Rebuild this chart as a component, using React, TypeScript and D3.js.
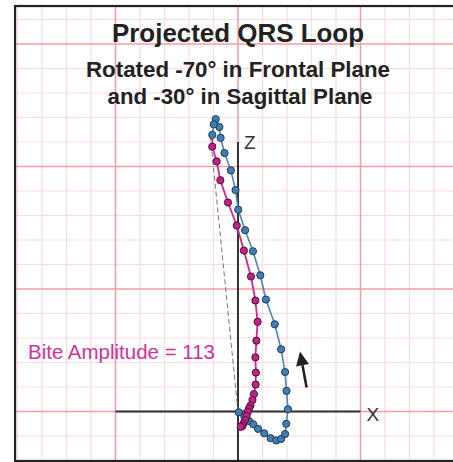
import React, { useEffect } from "react";
import * as d3 from "d3";

// loop samples (X = left/right, Z = up/down), blue = early part, magenta = terminal part
const blueX = [0.3, 2.6, 4.5, 6.2, 8.2, 10.7, 13.3, 15.6, 17.6, 19.2, 19.7, 20.4, 19.8, 19.2, 17.6, 15.0, 11.4, 9.1, 6.1, 2.9, 0.1, -1.0, -2.9, -5.5, -7.1, -7.6, -9.1, -9.9, -10.5];
const blueZ = [-0.3, -2.1, -3.9, -5.2, -7.1, -8.9, -10.9, -11.8, -11.2, -9.2, -5.0, 0.9, 8.4, 16.1, 25.4, 35.6, 45.7, 55.6, 65.4, 74.0, 82.4, 90.4, 98.4, 105.5, 111.7, 116.1, 119.3, 117.2, 112.9];
const pinkX = [-10.5, -8.7, -7.2, -4.1, -0.5, 2.4, 5.3, 7.1, 8.0, 7.5, 7.1, 7.3, 7.2, 6.5, 5.9, 5.1, 4.5, 4.0, 3.5, 2.9, 2.2, 1.8, 1.1];
const pinkZ = [108.1, 102.1, 94.4, 85.3, 75.9, 65.7, 55.1, 45.3, 36.6, 28.9, 22.1, 15.9, 11.0, 7.1, 4.7, 2.4, 1.3, -0.1, -1.8, -3.5, -4.9, -5.9, -6.3];

const biteEnd = [-11.3, 112.5];
const biteValue = 113;
const arrowFrom = [28.0, 9.8];
const arrowTo = [25.3, 24.5];

const xAxisRange = [-50, 50];
const zAxisRange = [-21, 110];
const frameX = [-91, 100];
const frameZ = [-20.2, 165.5];

const titleLines = ["Projected QRS Loop", "Rotated -70° in Frontal Plane", "and -30° in Sagittal Plane"];

export default function App() {
  useEffect(() => {
    document.body.style.margin = "0";
  }, []);

  const W = 453;
  const H = 462;
  const x = d3.scaleLinear().domain([0, 50]).range([238, 360.5]);
  const z = d3.scaleLinear().domain([0, 50]).range([411.5, 289]);

  const gridX = d3.range(-90, 101, 10);
  const gridZ = d3.range(-20, 166, 10);

  const bluePts = blueX.map((v, i) => [v, blueZ[i]]);
  const pinkPts = pinkX.map((v, i) => [v, pinkZ[i]]);
  const line = d3.line<number[]>().x((d) => x(d[0])).y((d) => z(d[1]));

  // arrow head
  const ax0 = x(arrowFrom[0]), ay0 = z(arrowFrom[1]);
  const ax1 = x(arrowTo[0]), ay1 = z(arrowTo[1]);
  const ang = Math.atan2(ay1 - ay0, ax1 - ax0);
  const hl = 14, hw = 6.5;
  const bx = ax1 - hl * Math.cos(ang), by = ay1 - hl * Math.sin(ang);
  const head = `M${ax1},${ay1}L${bx + hw * Math.sin(ang)},${by - hw * Math.cos(ang)}L${bx - hw * Math.sin(ang)},${by + hw * Math.cos(ang)}Z`;

  const font = "'Liberation Sans', Arial, Helvetica, sans-serif";

  return (
    <svg width={W} height={H} style={{ display: "block", background: "#fff" }}>
      <g>
        {gridX.filter((v) => v % 50 !== 0).map((v) => (
          <line key={"mx" + v} x1={x(v)} x2={x(v)} y1={z(frameZ[1])} y2={z(frameZ[0])} stroke="#fcdbe0" strokeWidth={1.2} />
        ))}
        {gridZ.filter((v) => v % 50 !== 0).map((v) => (
          <line key={"mz" + v} x1={x(frameX[0])} x2={x(frameX[1])} y1={z(v)} y2={z(v)} stroke="#fcdbe0" strokeWidth={1.2} />
        ))}
        {gridX.filter((v) => v % 50 === 0).map((v) => (
          <line key={"Mx" + v} x1={x(v)} x2={x(v)} y1={z(frameZ[1])} y2={z(frameZ[0])} stroke="#f49ca4" strokeWidth={1.5} />
        ))}
        {gridZ.filter((v) => v % 50 === 0).map((v) => (
          <line key={"Mz" + v} x1={x(frameX[0])} x2={x(frameX[1])} y1={z(v)} y2={z(v)} stroke="#f49ca4" strokeWidth={1.5} />
        ))}
      </g>

      {/* axes */}
      <line x1={x(xAxisRange[0])} x2={x(xAxisRange[1])} y1={z(0)} y2={z(0)} stroke="#333" strokeWidth={2} />
      <line x1={x(0)} x2={x(0)} y1={z(zAxisRange[1])} y2={z(zAxisRange[0])} stroke="#333" strokeWidth={2} />
      <text x={x(xAxisRange[1]) + 6} y={z(0) + 9} fontFamily={font} fontSize={19} fill="#333">X</text>
      <text x={x(0) + 6} y={z(zAxisRange[1]) + 7} fontFamily={font} fontSize={19} fill="#333">Z</text>

      {/* bite amplitude */}
      <line x1={x(0)} y1={z(0)} x2={x(biteEnd[0])} y2={z(biteEnd[1])} stroke="#777" strokeWidth={1} strokeDasharray="5,3" />

      <path d={line(bluePts) || ""} fill="none" stroke="#4a88bb" strokeWidth={1.6} />
      <path d={line([bluePts[bluePts.length - 1], ...pinkPts]) || ""} fill="none" stroke="#d0288f" strokeWidth={1.8} />
      {bluePts.map((d, i) => (
        <circle key={"b" + i} cx={x(d[0])} cy={z(d[1])} r={3.6} fill="#3f7fb4" stroke="#1f3b57" strokeWidth={1} />
      ))}
      {pinkPts.map((d, i) => (
        <circle key={"p" + i} cx={x(d[0])} cy={z(d[1])} r={3.6} fill="#c4208a" stroke="#4a1233" strokeWidth={1} />
      ))}

      <line x1={ax0} y1={ay0} x2={bx} y2={by} stroke="#222" strokeWidth={2.6} />
      <path d={head} fill="#222" />

      <text x={28} y={359} fontFamily={font} fontSize={20.3} fill="#d4309a" textLength={187} lengthAdjust="spacingAndGlyphs">{`Bite Amplitude = ${biteValue}`}</text>

      <text x={238} y={42} textAnchor="middle" fontFamily={font} fontWeight="bold" fontSize={26} fill="#222" textLength={252} lengthAdjust="spacingAndGlyphs">{titleLines[0]}</text>
      <text x={238} y={77} textAnchor="middle" fontFamily={font} fontWeight="bold" fontSize={21.5} fill="#222" textLength={304} lengthAdjust="spacingAndGlyphs">{titleLines[1]}</text>
      <text x={240} y={104} textAnchor="middle" fontFamily={font} fontWeight="bold" fontSize={21.5} fill="#222" textLength={265} lengthAdjust="spacingAndGlyphs">{titleLines[2]}</text>

      {/* frame */}
      <rect x={x(frameX[0])} y={z(frameZ[1])} width={x(frameX[1]) - x(frameX[0])} height={z(frameZ[0]) - z(frameZ[1])} fill="none" stroke="#222" strokeWidth={2.2} />
    </svg>
  );
}
